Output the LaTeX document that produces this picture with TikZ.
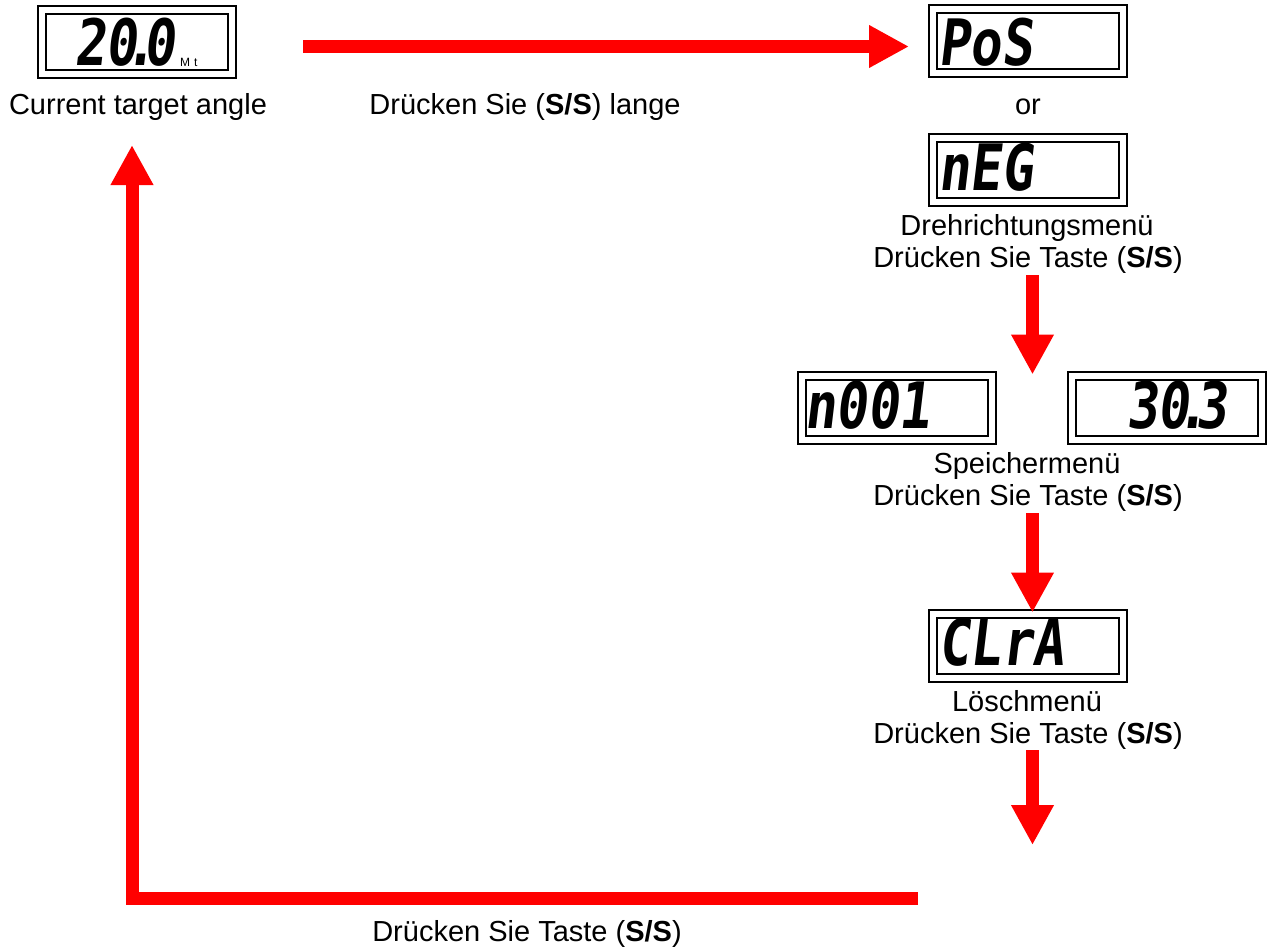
\documentclass[tikz,border=0pt]{standalone}
\usepackage{fontspec}
\setmainfont{Liberation Sans}
\newfontfamily\segfont[FakeSlant=0.12,FakeStretch=0.82]{DejaVu Sans Mono}
\usepackage{xcolor}
\usepackage{tikz}
\usetikzlibrary{arrows.meta,calc,positioning}
\tikzset{
  disp/.style={draw, double, double distance=6pt, line width=2pt,
    minimum width=190pt, minimum height=64pt, inner sep=0pt},
  segtxt/.style={font=\segfont\bfseries\fontsize{64}{64}\selectfont,
    inner sep=0pt, anchor=base west},
  lbl/.style={font=\fontsize{29}{34}\selectfont, inner sep=0pt, anchor=base},
  bigarrow/.style={draw=red, line width=13pt, line join=miter,
    -{Triangle[length=40pt,width=40pt]}, red}
}
\newcommand{\dpt}{\kern-0.2em.\kern-0.2em}

\begin{document}
\begin{tikzpicture}[x=1pt,y=-1pt]
  \useasboundingbox (0,0) rectangle (1269,946);

  % displays
  \node[disp] (cur) at (137,42) {};
  \node[disp] (pos) at (1028,41) {};
  \node[disp] (neg) at (1028,170) {};
  \node[disp] (mem) at (897,407.5) {};
  \node[disp] (val) at (1167,407.5) {};
  \node[disp] (clr) at (1028,645.5) {};

  \node[segtxt] (curtxt) at (74,65) {20\dpt0};
  \node[font=\fontsize{12}{12}\selectfont, inner sep=0pt, anchor=base west]
    (curunit) at (180,66) {M\,\,t};
  \node[segtxt] (postxt) at (938,65) {PoS};
  \node[segtxt] (negtxt) at (938,190) {nEG};
  \node[segtxt] (memtxt) at (804,428) {n001};
  \node[segtxt] (valtxt) at (1126,428) {30\dpt3};
  \node[segtxt] (clrtxt) at (938,665) {CLrA};

  % labels
  \node[lbl] (curlbl) at (138,114) {Current target angle};
  \node[lbl] (longlbl) at (525,114) {Drücken Sie (\textbf{S/S}) lange};
  \node[lbl] (orlbl) at (1028,114) {or};
  \node[lbl] (neglbl) at (1027,235) {Drehrichtungsmenü};
  \node[lbl] (negkey) at (1028,267) {Drücken Sie Taste (\textbf{S/S})};
  \node[lbl] (memlbl) at (1027,473) {Speichermenü};
  \node[lbl] (memkey) at (1028,505) {Drücken Sie Taste (\textbf{S/S})};
  \node[lbl] (clrlbl) at (1027,711) {Löschmenü};
  \node[lbl] (clrkey) at (1028,743) {Drücken Sie Taste (\textbf{S/S})};
  \node[lbl] (retkey) at (527,941) {Drücken Sie Taste (\textbf{S/S})};

  % arrows
  \coordinate (hstart) at (303,46.5);
  \coordinate (d1) at (1032.5,275);
  \coordinate (d2) at (1032.5,513);
  \coordinate (d3) at (1032.5,750);
  \coordinate (d3end) at (1032.5,845);
  \coordinate (rstart) at (918,898.5);
  \coordinate (rcorner) at (132,898.5);
  \coordinate (rtip) at (132,145);

  \draw[bigarrow, shorten >=23pt] (hstart) -- (hstart -| pos.west);
  \draw[bigarrow] (d1) -- (d1 |- mem.north);
  \draw[bigarrow] (d2) -- (d2 |- clr.north);
  \draw[bigarrow] (d3) -- (d3end);
  \draw[bigarrow] (rstart) -- (rcorner) -- (rtip);
\end{tikzpicture}
\end{document}
